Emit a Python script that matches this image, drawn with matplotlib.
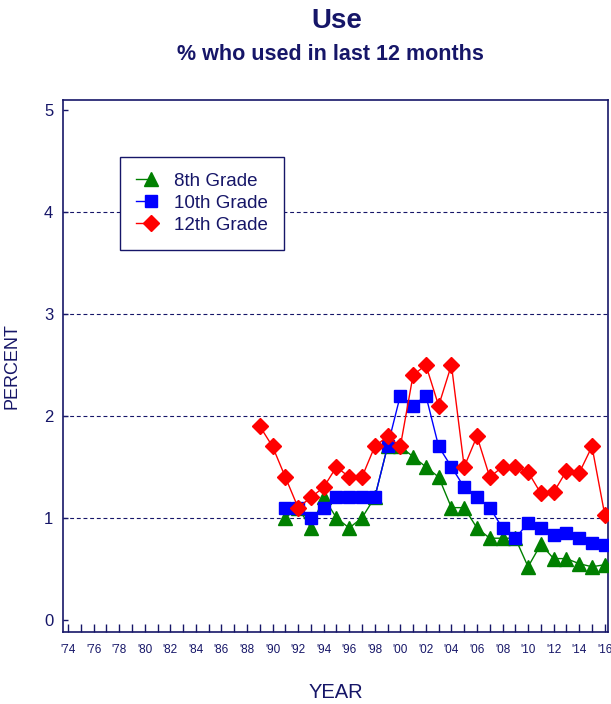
import numpy as np
import matplotlib
matplotlib.use("Agg")
import matplotlib.pyplot as plt
from matplotlib.legend_handler import HandlerLine2D

NAVY = "#161668"

# survey years per grade
years_8 = list(range(1991, 2017))
years_10 = list(range(1991, 2017))
years_12 = list(range(1989, 2017))

# percent who used in last 12 months
use_8 = [1.0, 1.1, 0.9, 1.2, 1.0, 0.9, 1.0, 1.2, 1.7, 1.7,
         1.6, 1.5, 1.4, 1.1, 1.1, 0.9, 0.8, 0.8, 0.8, 0.52,
         0.74, 0.6, 0.6, 0.55, 0.52, 0.54]
use_10 = [1.1, 1.1, 1.0, 1.1, 1.2, 1.2, 1.2, 1.2, 1.7, 2.2,
          2.1, 2.2, 1.7, 1.5, 1.3, 1.2, 1.1, 0.9, 0.8, 0.95,
          0.9, 0.83, 0.85, 0.8, 0.75, 0.73]
use_12 = [1.9, 1.7, 1.4, 1.1, 1.2, 1.3, 1.5, 1.4, 1.4, 1.7,
          1.8, 1.7, 2.4, 2.5, 2.1, 2.5, 1.5, 1.8, 1.4, 1.5,
          1.5, 1.45, 1.24, 1.25, 1.46, 1.44, 1.7, 1.03]

labels = ["8th Grade", "10th Grade", "12th Grade"]
y_ticks = [0, 1, 2, 3, 4, 5]
grid_levels = [1, 2, 3, 4]
tick_years = list(range(1974, 2017))


class HalfLineHandler(HandlerLine2D):
    """Legend handle with the line only to the left of the marker."""
    def create_artists(self, legend, orig_handle, xdescent, ydescent,
                       width, height, fontsize, trans):
        artists = super().create_artists(legend, orig_handle, xdescent, ydescent,
                                         width, height, fontsize, trans)
        for a in artists:
            xs = np.asarray(a.get_xdata(), dtype=float)
            if len(xs) == 3:
                mid = xs[1]
                a.set_xdata([xs[0], mid, mid])
        return artists


plt.rcParams["font.family"] = ["Liberation Sans", "DejaVu Sans"]

fig = plt.figure(figsize=(6.11, 7.04), dpi=100)
ax = fig.add_axes([0.1031, 0.1023, 0.8919, 0.7557])

for y in grid_levels:
    ax.axhline(y, color=NAVY, lw=0.8, ls=(0, (3.5, 2.5)), zorder=1)

ax.plot(years_8, use_8, color="#008000", lw=1, marker="^", ms=10,
        mec="#008000", mfc="#008000", label=labels[0], zorder=3)
ax.plot(years_10, use_10, color="#0000ff", lw=1, marker="s", ms=9,
        mec="#0000ff", mfc="#0000ff", label=labels[1], zorder=4)
ax.plot(years_12, use_12, color="#ff0000", lw=1, marker="D", ms=8.5,
        mec="#ff0000", mfc="#ff0000", label=labels[2], zorder=5)

ax.set_xlim(1973.6, 2016.25)
ax.set_ylim(-0.12, 5.1)

ax.set_yticks(y_ticks)
ax.set_xticks(tick_years)
ax.set_xticklabels(["'%02d" % (y % 100) if y % 2 == 0 else "" for y in tick_years])

ax.tick_params(axis="x", direction="in", length=5.5, width=1, colors=NAVY,
               labelsize=8.5, pad=9, top=False)
ax.tick_params(axis="y", direction="in", length=3.6, width=1, colors=NAVY,
               labelsize=12, pad=7, right=False)
for s in ax.spines.values():
    s.set_color(NAVY)
    s.set_linewidth(1.2)

ax.set_ylabel("PERCENT", fontsize=13, color=NAVY, labelpad=17)
ax.set_xlabel("YEAR", fontsize=14.5, color=NAVY, labelpad=19)

leg = ax.legend(loc="upper left", bbox_to_anchor=(0.1046, 0.893),
                borderaxespad=0, fontsize=13.5, frameon=True, fancybox=False,
                framealpha=1, edgecolor=NAVY, handlelength=1.6, handletextpad=0.45,
                labelspacing=0.25, borderpad=0.85, numpoints=1,
                handler_map={matplotlib.lines.Line2D: HalfLineHandler()})
leg.get_frame().set_linewidth(1.0)
leg.set_zorder(10)
for t in leg.get_texts():
    t.set_color(NAVY)

fig.text(0.552, 0.970, "Use", ha="center", va="center", fontsize=20,
         fontweight="bold", color=NAVY)
fig.text(0.540, 0.923, "% who used in last 12 months", ha="center", va="center",
         fontsize=15.5, fontweight="bold", color=NAVY)

fig.savefig("out.png", dpi=100)
